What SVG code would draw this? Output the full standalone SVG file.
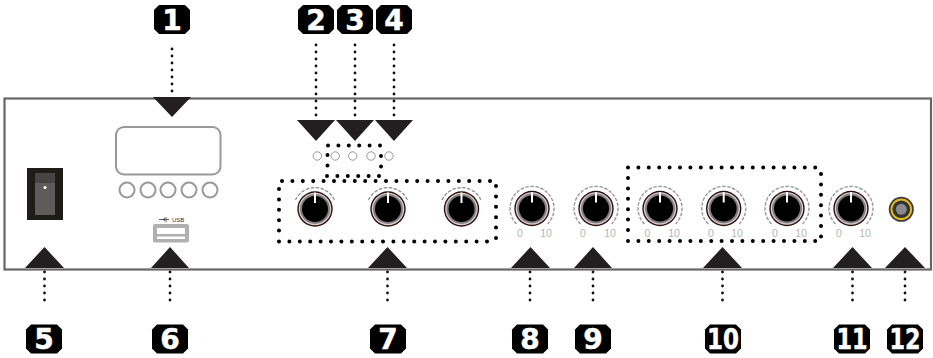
<svg xmlns="http://www.w3.org/2000/svg" width="933" height="358" viewBox="0 0 933 358">
<style>
.dot{fill:none;stroke:#111;stroke-width:2.8;stroke-linecap:round;stroke-dasharray:0 7}
.dotb{fill:none;stroke:#000;stroke-width:4;stroke-linecap:round;stroke-dasharray:0 10.400}
.tri{fill:#231f20}
.badge{fill:#000}
.num{font-family:"DejaVu Sans",sans-serif;font-weight:700;font-size:28px;fill:#fff;stroke:#fff;stroke-width:.5;text-anchor:middle}
.lab{font-family:"Liberation Sans",sans-serif;font-size:10.500px;fill:#b5b5b5;text-anchor:middle}
.ring{fill:#fff;stroke:#999;stroke-width:2}
.led{fill:#fff;stroke:#999;stroke-width:1}
</style>
<defs>
<path id="oct" d="M-13-14.500H13L18-9.500V9.500L13 14.500H-13L-18 9.500V-9.500Z"/>
<g id="knob">
<circle r="17.700" fill="#2e0f0c"/>
<circle r="16.300" fill="#d8cfcd"/>
<circle r="15" fill="#808080"/>
<circle r="13" fill="#000"/>
<path d="M0-16.500V-6" stroke="#fff" stroke-width="2"/>
</g>
<g id="arcTop">
<path d="M-19.500-9A21.500 21.500 0 0 1 19.500-9" fill="none" stroke="#888" stroke-width="1.200" stroke-dasharray="3.500 1.500"/>
</g>
<g id="arcFull">
<path d="M-15.500 15.500A22 22 0 1 1 15.500 15.500" fill="none" stroke="#999" stroke-width="1.400" stroke-dasharray="3.500 1.500"/>
</g>
</defs>

<rect id="panel" x="4.500" y="98.500" width="926.500" height="171" fill="#fff" stroke="#666" stroke-width="2.200"/>

<g id="connectors">
<path class="dot" d="M172 49V93M316 45V116M355 45V116M394 45V116"/>
<path class="dot" d="M44.500 272V307M170 272V307M387.500 272V307M530 272V307M593 272V307M722.500 272V307M852.500 272V307M905 272V307"/>
<path class="tri" d="M153 97H191L172 117ZM297 120H335L316 141ZM336 120H374L355 141ZM375 120H413L394 141Z"/>
<path class="tri" d="M25 268H64L44.500 247ZM151 268H189L170 247ZM368 268H407L387.500 247ZM511 268H550L530.500 247ZM574 268H612L593 247ZM703 268H742L722.500 247ZM833 268H872L852.500 247ZM885 268H925L905 247Z"/>
<path class="dotb" d="M282 181H494"/>
<path class="dotb" d="M279 189V231"/>
<path class="dotb" d="M279 241.500H491"/>
<path class="dotb" d="M496 186V239"/>
<path class="dotb" d="M328 145.500H382"/>
<path class="dotb" d="M327 176H381"/>
<path class="dotb" d="M327.500 155V166"/>
<path class="dotb" d="M381 156V167"/>
<path class="dotb" d="M628 167.500H820"/>
<path class="dotb" d="M628 178V233"/>
<path class="dotb" d="M628 241H821"/>
<path class="dotb" d="M821 174V237"/>
</g>

<g id="node-1"><use href="#oct" class="badge" x="172" y="19.500"/><text class="num" x="172" y="29.500">1</text></g>
<g id="node-2"><use href="#oct" class="badge" x="316" y="19.500"/><text class="num" x="316" y="29.500">2</text></g>
<g id="node-3"><use href="#oct" class="badge" x="355" y="19.500"/><text class="num" x="355" y="29.500">3</text></g>
<g id="node-4"><use href="#oct" class="badge" x="394" y="19.500"/><text class="num" x="394" y="29.500">4</text></g>
<g id="node-5"><use href="#oct" class="badge" x="44" y="339"/><text class="num" x="44" y="349">5</text></g>
<g id="node-6"><use href="#oct" class="badge" x="170" y="339"/><text class="num" x="170" y="349">6</text></g>
<g id="node-7"><use href="#oct" class="badge" x="388" y="339"/><text class="num" x="388" y="349">7</text></g>
<g id="node-8"><use href="#oct" class="badge" x="530" y="339"/><text class="num" x="530" y="349">8</text></g>
<g id="node-9"><use href="#oct" class="badge" x="593" y="339"/><text class="num" x="593" y="349">9</text></g>
<g id="node-10"><use href="#oct" class="badge" x="723" y="339"/><text class="num" x="723" y="349" textLength="32" lengthAdjust="spacingAndGlyphs">10</text></g>
<g id="node-11"><use href="#oct" class="badge" x="852" y="339"/><text class="num" x="852" y="349" textLength="31" lengthAdjust="spacingAndGlyphs">11</text></g>
<g id="node-12"><use href="#oct" class="badge" x="905" y="339"/><text class="num" x="905" y="349" textLength="31" lengthAdjust="spacingAndGlyphs">12</text></g>

<g id="power-switch">
<rect x="27" y="168" width="36" height="52" fill="#1f1c18"/>
<rect x="35" y="173" width="20" height="42" fill="#5c5c5c"/>
<rect x="35" y="173" width="20" height="10" fill="#454545"/>
<circle cx="45" cy="187.500" r="1.500" fill="#fff"/>
</g>

<g id="display">
<rect x="116" y="127" width="104.500" height="47.500" rx="8" fill="#fff" stroke="#999" stroke-width="2"/>
<circle class="ring" cx="127" cy="190" r="7.500"/>
<circle class="ring" cx="148" cy="190" r="7.500"/>
<circle class="ring" cx="168" cy="190" r="7.500"/>
<circle class="ring" cx="189" cy="190" r="7.500"/>
<circle class="ring" cx="210" cy="190" r="7.500"/>
</g>

<g id="usb">
<rect x="153" y="224" width="36" height="18.500" rx="2" fill="#b0b0b0"/>
<rect x="157" y="228" width="28" height="6" fill="#fff"/>
<rect x="157" y="236.500" width="28" height="2.500" fill="#fff"/>
<path d="M159 219.500H169M163 219.500L165 218H167M163 219.500L165 221H167" fill="none" stroke="#333" stroke-width=".8"/>
<text x="172" y="222" font-family="Liberation Sans, sans-serif" font-size="6" fill="#333">USB</text>
</g>

<g id="leds">
<circle class="led" cx="317.300" cy="156" r="4.200"/>
<circle class="led" cx="335.300" cy="156" r="4.200"/>
<circle class="led" cx="352.700" cy="156" r="4.200"/>
<circle class="led" cx="371" cy="156" r="4.200"/>
<circle class="led" cx="389" cy="156" r="4.200"/>
</g>

<g id="knobs-7">
<use href="#arcTop" x="315" y="209"/><use href="#knob" x="315" y="209"/>
<use href="#arcTop" x="388" y="209"/><use href="#knob" x="388" y="209"/>
<use href="#arcTop" x="461.500" y="209"/><use href="#knob" x="461.500" y="209"/>
</g>
<g id="knob-8"><use href="#arcFull" x="532" y="208.500"/><use href="#knob" x="532" y="208.500"/><text class="lab" x="520" y="237">0</text><text class="lab" x="546" y="237">10</text></g>
<g id="knob-9"><use href="#arcFull" x="596" y="208.500"/><use href="#knob" x="596" y="208.500"/><text class="lab" x="583" y="237">0</text><text class="lab" x="610" y="237">10</text></g>
<g id="knobs-10">
<use href="#arcFull" x="660" y="208.500"/><use href="#knob" x="660" y="208.500"/><text class="lab" x="647.500" y="237">0</text><text class="lab" x="674" y="237">10</text>
<use href="#arcFull" x="723.700" y="208.500"/><use href="#knob" x="723.700" y="208.500"/><text class="lab" x="711" y="237">0</text><text class="lab" x="737" y="237">10</text>
<use href="#arcFull" x="787" y="208.500"/><use href="#knob" x="787" y="208.500"/><text class="lab" x="775" y="237">0</text><text class="lab" x="801" y="237">10</text>
</g>
<g id="knob-11"><use href="#arcFull" x="851" y="208.500"/><use href="#knob" x="851" y="208.500"/><text class="lab" x="839" y="237">0</text><text class="lab" x="865" y="237">10</text></g>

<g id="jack">
<circle cx="901.300" cy="209.300" r="12.500" fill="#3a3a3a"/>
<circle cx="901.300" cy="209.300" r="10.800" fill="#e3b81f"/>
<circle cx="901.300" cy="209.300" r="8.800" fill="#333"/>
<circle cx="901.300" cy="209.300" r="5.500" fill="#8b8b8f"/>
</g>
</svg>
